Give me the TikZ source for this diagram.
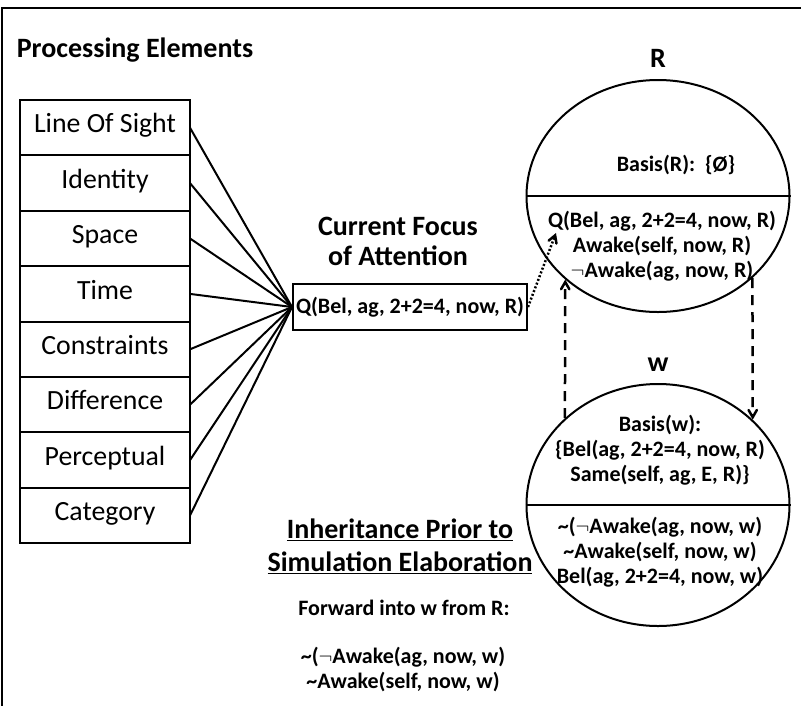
\documentclass[tikz,border=0pt]{standalone}
\usepackage{fontspec}
\setmainfont{Carlito}
\usetikzlibrary{arrows, positioning, shapes.geometric}

\begin{document}
\begin{tikzpicture}[
            x = 1pt, y = -1pt, % pixel like units, y grows downward
            > = angle 60, % arrow head style
            line width = 2pt,
            node distance = 0pt % stacked boxes share their borders
        ]

        \tikzstyle{elem}=[
            draw,
            outer sep = 0pt,
            inner sep = 0pt,
            minimum width = 170pt,
            minimum height = 55.4pt,
            text height = 1.05em,
            text depth = 0pt,
            font = \fontsize{27.8}{31}\selectfont
        ]
        \tikzstyle{title}=[
            align = center,
            font = \fontsize{28}{31}\selectfont\bfseries
        ]
        \tikzstyle{fact}=[
            align = center,
            inner sep = 0pt,
            font = \fontsize{22}{25}\selectfont\bfseries
        ]
        \tikzstyle{world}=[
            draw,
            ellipse,
            inner sep = 0pt,
            minimum width = 263pt
        ]

    \useasboundingbox (0,0) rectangle (801,705);
    \draw (2,8) rectangle (900,800);

	\node[title, anchor=base west] (pe) at (12.5,57) {Processing Elements};

	% processing elements
	\node[elem] (los) at (105,127.7) {Line Of Sight};
	\node[elem] (ident) [below=of los] {Identity};
	\node[elem] (space) [below=of ident] {Space};
	\node[elem] (time) [below=of space] {Time};
	\node[elem] (constr) [below=of time] {Constraints};
	\node[elem] (diff) [below=of constr] {Difference};
	\node[elem] (percep) [below=of diff] {Perceptual};
	\node[elem] (categ) [below=of percep] {Category};

	% focus of attention
	\node[title] (cfa) at (398,241) {Current Focus\\[-1pt]of Attention};
	\node[fact, draw, minimum width=234pt, minimum height=46pt] (focus) at (410,307) {Q(Bel, ag, 2+2=4, now, R)};

	\foreach \e in {los, ident, space, time, constr, diff, percep, categ}
	    \draw (\e.east) -- (focus.west);

	% world R
	\node[title] (rname) at (658,58) {R};
	\node[world, minimum height=232pt] (rc) at (658,196) {};
	\draw (rc.west) -- (rc.east);
	\node[fact] (rbasis) at (676,165) {Basis(R):\ \ \{Ø\}};
	\node[fact] (rlow) at (662,246) {Q(Bel, ag, 2+2=4, now, R)\\Awake(self, now, R)\\$\neg$Awake(ag, now, R)};
	\coordinate (qtip) at (556,233);

	% world w
	\node[title] (wname) at (658,365) {w};
	\node[world, minimum height=242pt] (wc) at (658,505) {};
	\draw (wc.west) -- (wc.east);
	\node[fact] (wbasis) at (660,450) {Basis(w):\\\{Bel(ag, 2+2=4, now, R)\\Same(self, ag, E, R)\}};
	\node[fact] (wlow) at (660,552) {\textasciitilde($\neg$Awake(ag, now, w)\\\textasciitilde Awake(self, now, w)\\Bel(ag, 2+2=4, now, w)};

	\draw[->, line width=2.5pt, dash pattern=on 2pt off 2pt] (focus.east) -- (qtip);
	\draw[->, line width=2.5pt, dash pattern=on 10pt off 7pt] (wc.137.4) -- (rc.-138.7);
	\draw[->, line width=2.5pt, dash pattern=on 10pt off 7pt] (rc.-41.3) -- (wc.42.6);

	% inheritance
	\node[title] (inh) at (400,546) {\underline{Inheritance Prior to}\\[2pt]\underline{Simulation Elaboration}};
	\node[fact] (fwd) at (404,608) {Forward into w from R:};
	\node[fact] (fwdfacts) at (403,669) {\textasciitilde($\neg$Awake(ag, now, w)\\\textasciitilde Awake(self, now, w)};

\end{tikzpicture}
\end{document}
